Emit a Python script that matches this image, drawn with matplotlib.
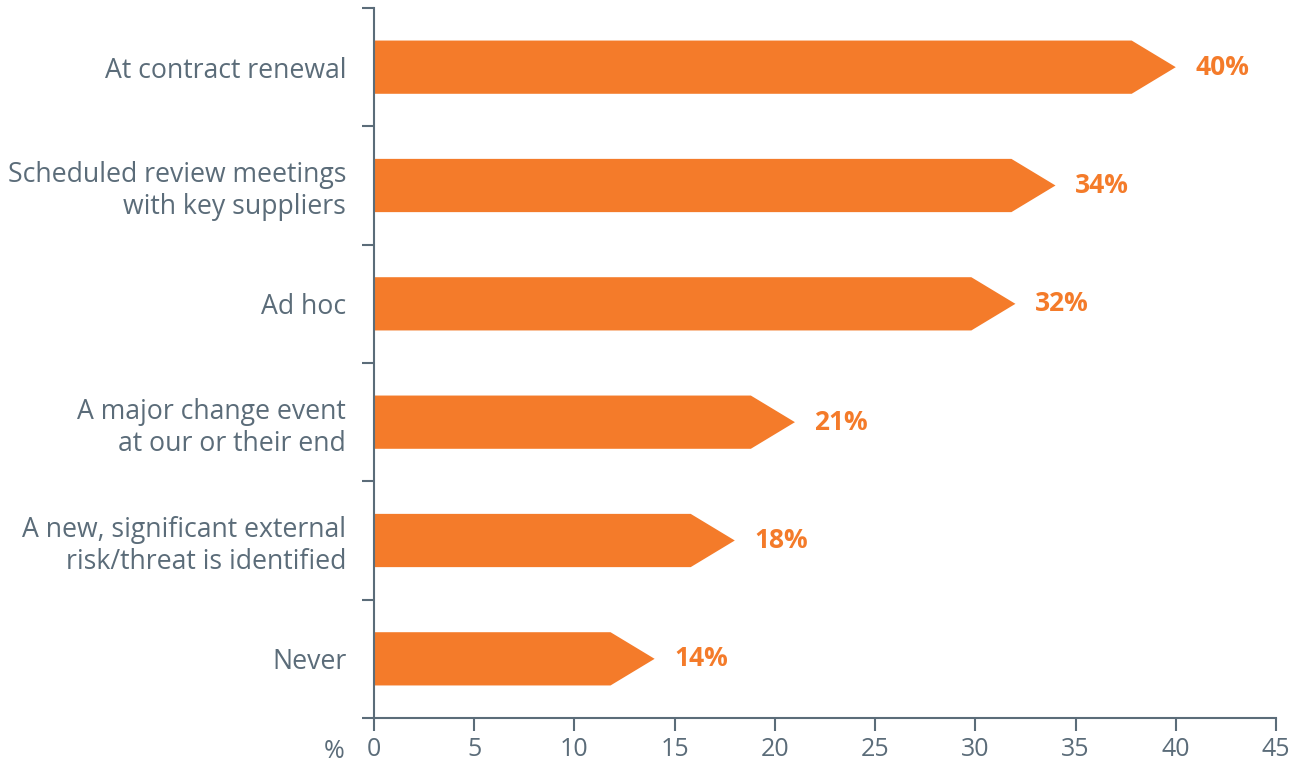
import matplotlib
matplotlib.use("Agg")
import matplotlib.pyplot as plt
from matplotlib.patches import Polygon

categories = [
    "At contract renewal",
    "Scheduled review meetings\nwith key suppliers",
    "Ad hoc",
    "A major change event\nat our or their end",
    "A new, significant external\nrisk/threat is identified",
    "Never",
]
values = [40, 34, 32, 21, 18, 14]
x_ticks = [0, 5, 10, 15, 20, 25, 30, 35, 40, 45]

ORANGE = "#f47b2a"
GREY = "#5b6c79"
plt.rcParams["font.family"] = ["Open Sans", "DejaVu Sans"]

fig = plt.figure(figsize=(13.04, 7.65), dpi=100)
ax = fig.add_axes([374 / 1304, 1 - 718 / 765, (1276 - 374) / 1304, (718 - 8) / 765])

n = len(categories)
bar_h = 0.45
head = 2.2
for i, v in enumerate(values):
    yc = i + 0.5
    pts = [
        (0, yc - bar_h / 2),
        (v - head, yc - bar_h / 2),
        (v, yc),
        (v - head, yc + bar_h / 2),
        (0, yc + bar_h / 2),
    ]
    ax.add_patch(Polygon(pts, closed=True, facecolor=ORANGE, edgecolor="none"))
    ax.annotate(f"{v}%", xy=(v, yc), xytext=(14, 0), textcoords="offset points",
                va="center", ha="left", color=ORANGE, fontsize=19, fontweight="bold")

ax.set_xlim(0, 45)
ax.set_ylim(n, 0)
ax.set_xticks(x_ticks)
ax.set_xticklabels([str(t) for t in x_ticks])
ax.set_yticks(range(n + 1))
ax.set_yticklabels([])
ax.set_yticks([i + 0.5 for i in range(n)], minor=True)
ax.set_yticklabels(categories, minor=True, ha="right", multialignment="right",
                   linespacing=1.2)
ax.tick_params(axis="y", which="minor", length=0, pad=20, labelsize=19.2, labelcolor=GREY)
ax.tick_params(axis="y", which="major", length=9, width=1.5, color=GREY, direction="out")
ax.tick_params(axis="x", length=9, width=1.5, color=GREY, labelsize=18, labelcolor=GREY, pad=5)

for s in ["top", "right"]:
    ax.spines[s].set_visible(False)
for s in ["left", "bottom"]:
    ax.spines[s].set_color(GREY)
    ax.spines[s].set_linewidth(1.5)

ax.annotate("%", xy=(0, 0), xycoords="axes fraction", xytext=(-21, -24),
            textcoords="offset points", fontsize=18, color=GREY, ha="right", va="center")

fig.savefig("out.png", dpi=100)
